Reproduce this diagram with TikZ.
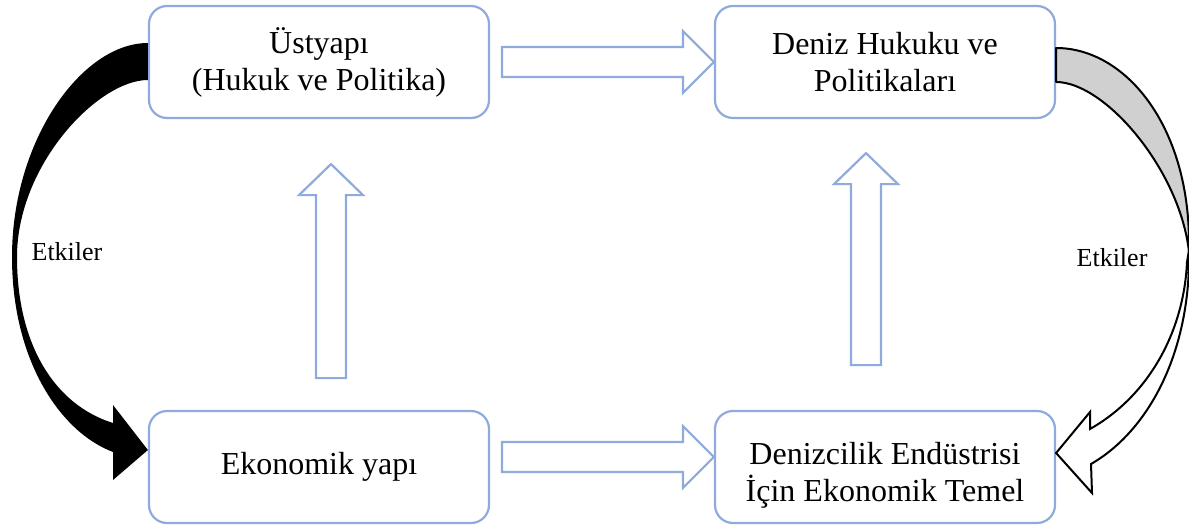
\documentclass[tikz,border=0pt]{standalone}
\usepackage{fontspec}
\setmainfont{Liberation Serif}
\definecolor{boxblue}{RGB}{143,170,220}
\definecolor{foldgray}{RGB}{208,208,208}

\begin{document}
\begin{tikzpicture}[x=1pt,y=-1pt,
    kutu/.style={draw=boxblue, line width=2.2pt, rounded corners=18pt,
      minimum width=340pt, minimum height=112pt, align=center,
      font=\fontsize{32}{37}\selectfont},
    blok/.style={draw=boxblue, line width=2.2pt, line join=miter},
    etiket/.style={font=\fontsize{26}{30}\selectfont}]
  \useasboundingbox (0,0) rectangle (1189,525);

  % boxes
  \node[kutu] (ust) at (319,62) {Üstyapı\\(Hukuk ve Politika)};
  \node[kutu] (hukuk) at (885,62) {Deniz Hukuku ve\\Politikaları};
  \node[kutu] (eko) at (319,467) {Ekonomik yapı};
  \node[kutu] (temel) at (885,467) {\rule{0pt}{38pt}Denizcilik Endüstrisi\\İçin Ekonomik Temel};

  % block arrows
  \draw[blok] (hukuk.west) -- ++(-31,-31) -- ++(0,16) -- ++(-181,0)
    -- ++(0,30) -- ++(181,0) -- ++(0,16) -- cycle;
  \draw[blok] ([shift={(0,-10)}]temel.west) -- ++(-31,-31) -- ++(0,16) -- ++(-181,0)
    -- ++(0,30) -- ++(181,0) -- ++(0,16) -- cycle;
  \draw[blok] ([shift={(12,45)}]ust.south) -- ++(-32,31) -- ++(17,0) -- ++(0,183)
    -- ++(30,0) -- ++(0,-183) -- ++(17,0) -- cycle;
  \draw[blok] ([shift={(-19,34)}]hukuk.south) -- ++(-32,31) -- ++(17,0) -- ++(0,181)
    -- ++(30,0) -- ++(0,-181) -- ++(17,0) -- cycle;

  % curved arrows
  \fill ([shift={(0,-19)}]ust.west) .. controls (82,43) and (12,140) .. (12,257)
    .. controls (12,360) and (60,432) .. (113,452) -- (113,480)
    -- ([shift={(0,-17)}]eko.west) -- (113,405) -- (113,423)
    .. controls (55,405) and (17,345) .. (17,257)
    .. controls (17,165) and (98,80) .. ([shift={(0,18)}]ust.west) -- cycle;
  \draw[fill=foldgray, line width=2pt, line join=round]
    ([shift={(0,-14)}]hukuk.east) .. controls (1125,48) and (1189,125) .. (1189,243)
    -- (1189,252) .. controls (1180,170) and (1105,82) .. ([shift={(0,20)}]hukuk.east) -- cycle;
  \draw[fill=white, line width=2pt, line join=miter]
    (1189,250) .. controls (1191,350) and (1150,430) .. (1091,464) -- (1092,493)
    -- ([shift={(0,-14)}]temel.east) -- (1090,412) -- (1090,429)
    .. controls (1150,395) and (1184,330) .. (1187,262) -- cycle;

  \node[etiket] (sol) at (67,252) {Etkiler};
  \node[etiket] (sag) at (1112,258) {Etkiler};
\end{tikzpicture}
\end{document}
